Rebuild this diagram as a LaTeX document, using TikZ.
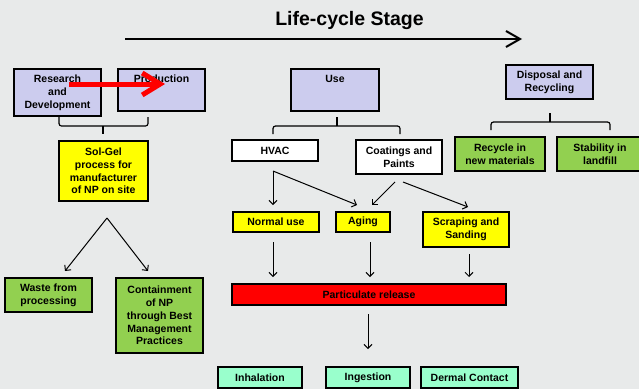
\documentclass[tikz,border=0pt]{standalone}
\usepackage{fontspec}
\setmainfont{Liberation Sans}
\usetikzlibrary{arrows.meta}
\definecolor{bg}{HTML}{E8EAEA}
\definecolor{lav}{HTML}{CCCCEE}
\definecolor{grn}{HTML}{92D050}
\definecolor{yel}{HTML}{FFFF00}
\definecolor{aqua}{HTML}{99FFCC}
\begin{document}
\begin{tikzpicture}[x=1pt,y=-1pt,
  box/.style={draw=black, line width=1.5pt, font=\bfseries\fontsize{10.5}{12.8}\selectfont, align=center, inner sep=0pt},
  txt/.style={font=\bfseries\fontsize{10.5}{12.8}\selectfont, align=center, inner sep=0pt},
  arr/.style={line width=1pt, -{Straight Barb[length=4pt,width=8pt]}},
  brace/.style={line width=1.2pt, rounded corners=2.5pt}]
\fill[bg] (0,0) rectangle (639,389);
\useasboundingbox (0,0) rectangle (639,389);

% title
\node[font=\bfseries\fontsize{19.5}{22}\selectfont, inner sep=0pt] (title) at (349.5,20) {Life-cycle Stage};
\coordinate (t0) at (125,39);
\coordinate (t1) at (522,39);
\draw[line width=2pt, -{Straight Barb[length=14pt,width=16pt]}] (t0) -- (t1);

% top stage boxes
\node[box, fill=lav, minimum width=87pt, minimum height=47pt] (rd) at (57.5,92.5) {Research\\and\\Development};
\node[box, fill=lav, minimum width=87pt, minimum height=42pt] (prod) at (161.5,90) {};
\node[txt] (prodt) at (161.5,79) {Production};
\node[box, fill=lav, minimum width=88pt, minimum height=42pt] (use) at (335,90) {};
\node[txt] (uset) at (335,79) {Use};
\node[box, fill=lav, minimum width=87pt, minimum height=34pt] (disp) at (549.5,82) {Disposal and\\Recycling};

% second level
\node[box, fill=yel, minimum width=89pt, minimum height=60pt] (solgel) at (103.5,171) {Sol-Gel\\process for\\manufacturer\\of NP on site};
\node[box, fill=white, minimum width=86pt, minimum height=21pt] (hvac) at (275,150.5) {HVAC};
\node[box, fill=white, minimum width=86pt, minimum height=34pt] (coat) at (399,157) {Coatings and\\Paints};
\node[box, fill=grn, minimum width=90pt, minimum height=34pt] (recy) at (500,154) {Recycle in\\new materials};
\node[box, fill=grn, minimum width=86pt, minimum height=34pt] (stab) at (600,154) {Stability in\\landfill};

% third level
\node[box, fill=yel, minimum width=86pt, minimum height=20pt] (normal) at (276,222) {Normal use};
\node[box, fill=yel, minimum width=54pt, minimum height=20pt] (aging) at (363,222) {Aging};
\node[box, fill=yel, minimum width=86pt, minimum height=35pt] (scrap) at (466,229.5) {Scraping and\\Sanding};

\node[box, fill=grn, minimum width=87pt, minimum height=34pt] (waste) at (48.5,295) {Waste from\\processing};
\node[box, fill=grn, minimum width=87pt, minimum height=75pt] (contain) at (159.5,315.5) {Containment\\of NP\\through Best\\Management\\Practices};

\node[box, fill=red, minimum width=274pt, minimum height=21pt] (part) at (369,294.5) {Particulate release};

\node[box, fill=aqua, minimum width=84pt, minimum height=21pt] (inh) at (260,377.5) {Inhalation};
\node[box, fill=aqua, minimum width=84pt, minimum height=21pt] (ing) at (368,377.5) {Ingestion};
\node[box, fill=aqua, minimum width=97pt, minimum height=21pt] (derm) at (469.5,377.5) {Dermal Contact};

% braces
\draw[brace] (59,117) |- (103,126) -- (148,126) -- (148,117);
\draw[line width=1.2pt] (103,126) -- (103,134);
\draw[brace] (273,134) |- (337,126) -- (400,126) -- (400,134);
\draw[line width=1.2pt] (337,126) -- (337,117);
\draw[brace] (491,130) |- (550,122) -- (610,122) -- (610,130);
\draw[line width=1.2pt] (550,122) -- (550,113);

% arrows
\coordinate (sg) at (107,218);
\coordinate (sgl) at (65,271);
\coordinate (sgr) at (148,271);
\draw[arr] (sg) -- (sgl);
\draw[arr] (sg) -- (sgr);

\coordinate (h0) at (273,171);
\coordinate (h1) at (273,205);
\coordinate (h2) at (357,205);
\draw[arr] (h0) -- (h1);
\draw[arr] (h0) -- (h2);

\coordinate (c1) at (395,182);
\coordinate (c1e) at (372,205);
\coordinate (c2) at (403,182);
\coordinate (c2e) at (468,207);
\draw[arr] (c1) -- (c1e);
\draw[arr] (c2) -- (c2e);

\coordinate (n0) at (273,242);
\coordinate (n1) at (273,277);
\coordinate (a0) at (370,242);
\coordinate (a1) at (370,277);
\coordinate (s0) at (469,254);
\coordinate (s1) at (469,277);
\coordinate (p0) at (368,314);
\coordinate (p1) at (368,349);
\draw[arr] (n0) -- (n1);
\draw[arr] (a0) -- (a1);
\draw[arr] (s0) -- (s1);
\draw[arr] (p0) -- (p1);

% red arrow
\coordinate (ra) at (69,84);
\coordinate (rb) at (165,84);
\draw[red, line width=5pt, -{Straight Barb[length=18pt,width=22pt]}] (ra) -- (rb);
\end{tikzpicture}
\end{document}
